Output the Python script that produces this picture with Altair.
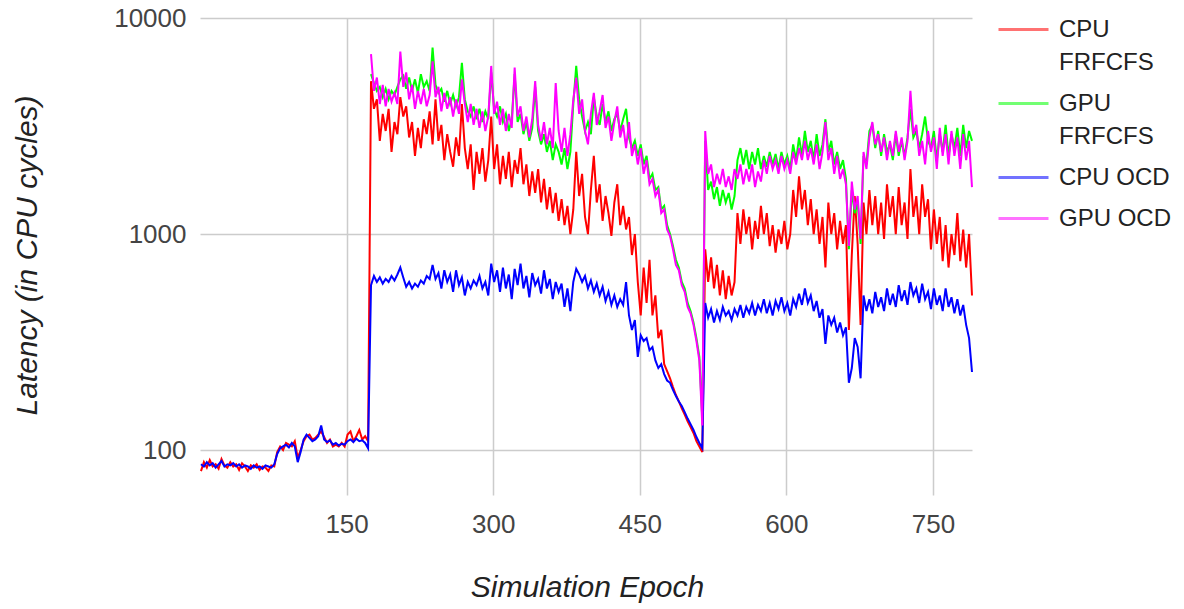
import altair as alt
import pandas as pd

EPOCHS = list(range(1, 791, 3))
GPU_EPOCHS = EPOCHS[58:]

SERIES = ["CPU FRFCFS", "GPU FRFCFS", "CPU OCD", "GPU OCD"]
COLORS = ["#ff0000", "#00ff00", "#0000ff", "#ff00ff"]
Y_TICKS = [100, 1000, 10000]
X_TICKS = [150, 300, 450, 600, 750]

CPU_FRFCFS = [
    80, 88, 83, 90, 84, 86, 82, 91, 85, 83, 88, 84, 86, 81, 87, 84, 80, 85, 83, 86, 81, 84, 83, 80, 85, 84,
    98, 104, 100, 108, 106, 104, 110, 92,
    100, 110, 116, 118, 112, 114, 118, 122, 115, 108, 112, 104, 106, 104, 108, 104, 118, 122, 110, 116, 124, 112, 116, 110,
    5100, 3800, 4200, 2700, 3600, 3000, 3800, 2400, 3300, 2900,
    4300, 3500, 3900, 2800, 3300, 2300, 3100, 2500, 3400, 2900,
    3700, 2600, 4200, 2700, 3200, 2200, 2900, 2400, 2050, 2800,
    2300, 4000, 2500, 2000, 2600, 1600, 2400, 1900, 2500, 1750,
    2200, 3500, 2000, 2600, 1700, 2300, 1800, 2400, 1650, 2200,
    1900, 2500, 1700, 2100, 1500, 1950, 1550, 2000, 1400, 1800,
    1300, 1650, 1250, 1550, 1150, 1450, 1100, 1350, 1000, 1300,
    2400, 1500, 1900, 1200, 1000, 1600, 2300, 1400, 1700, 1150,
    1500, 1250, 980, 1400, 1700, 1100, 1350, 1050, 1200, 800,
    1000, 600, 420, 700, 480, 760, 420, 520, 330, 360,
    250, 232, 215, 196, 180, 168, 156, 146, 136, 128,
    120, 110, 104, 98,
    850, 600, 780, 560, 720, 520, 680, 500, 640, 520,
    600, 1250, 900, 1300, 1000, 1200, 850, 1150, 950, 1350,
    1000, 1250, 880, 1100, 820, 1050, 900, 1150, 850, 1000,
    1600, 1200, 1850, 1300, 1600, 1100, 1450, 1000, 1300, 900,
    1200, 700, 1400, 1000, 1250, 850, 1150, 900, 1100, 360,
    800, 1500, 900, 380, 1400, 1000, 1600, 1100, 1500, 1000,
    1400, 950, 1700, 1200, 1500, 1000, 1650, 1100, 1400, 950,
    2000, 1200, 1500, 1000, 1700, 1200, 1450, 850, 1300, 900,
    1200, 750, 1100, 700, 1000, 800, 1250, 750, 1050, 700,
    1000, 520,
]

CPU_OCD = [
    86, 84, 88, 85, 87, 83, 86, 89, 84, 86, 85, 87, 84, 86, 83, 85, 84, 82, 85, 83, 84, 82, 85, 84, 83, 86,
    96, 102, 104, 106, 103, 108, 104, 88,
    98, 112, 118, 114, 110, 112, 116, 130, 112, 109, 111, 106, 108, 105, 107, 106, 110, 112, 109, 113, 110, 111, 108, 102,
    580, 640, 600, 630, 590, 620, 600, 640, 610, 650,
    700, 630, 570, 600, 560, 590, 570, 610, 590, 640,
    620, 720, 620, 660, 560, 680, 600, 650, 540, 680,
    580, 630, 520, 600, 560, 610, 580, 640, 560, 600,
    520, 730, 600, 680, 540, 700, 560, 650, 500, 690,
    580, 730, 560, 640, 510, 660, 580, 620, 530, 680,
    560, 620, 500, 600, 540, 590, 460, 560, 440, 600,
    690, 650, 600, 640, 560, 610, 540, 590, 520, 570,
    490, 540, 470, 520, 460,
    500, 470, 600, 420, 360, 400, 270, 340, 320, 330,
    290, 300, 260, 240, 250, 225, 210, 205, 190, 178,
    168, 160, 150, 140, 132, 124, 115, 108, 102,
    480, 410, 450, 390, 440, 400, 460, 420, 440, 400,
    450, 420, 470, 410, 460, 430, 480, 420, 470, 440,
    500, 430, 480, 420, 490, 450, 510, 440, 480, 420,
    500, 460, 530, 470, 560, 480, 520, 440, 490, 410,
    450, 310, 420, 380, 410, 350, 390, 340, 370, 205,
    240, 330, 300, 215, 520, 440, 500, 430, 540, 460,
    510, 440, 560, 470, 530, 460, 580, 490, 550, 470,
    600, 520, 560, 480, 590, 500, 540, 450, 560, 470,
    520, 440, 560, 460, 510, 430, 500, 420, 470, 380,
    330, 230,
]

GPU_FRFCFS = [
    5500, 5000, 4600, 4800, 4300, 4700, 4200, 4600, 4400, 4800,
    5200, 5400, 4700, 5300, 4600, 5200, 4500, 5500, 4800, 5100,
    4600, 7300, 4900, 4500, 4700, 4100, 4600, 4000, 4400, 3900,
    4300, 6200, 4200, 3700, 3500, 3900, 3400, 3800, 3300, 3700,
    3400, 5600, 3800, 3500, 3900, 3300, 3600, 3000, 3400, 5500,
    3300, 3600, 2900, 3300, 2700, 3100, 4800, 3000, 2600, 2900,
    2400, 2700, 2200, 2600, 2400, 2100, 2500, 2000, 2400, 4000,
    6000, 4200, 3500, 3000, 3300, 2900, 4300, 3500, 3200, 4000,
    3300, 3700, 3000, 3400, 3600, 3000, 3400, 3800, 2800, 2500,
    2700, 2300, 2600, 2100, 2300, 1800, 1900, 1600, 1650, 1300,
    1350, 1100, 1000, 880, 760, 700, 600, 560, 480, 440,
    390, 330, 270, 140,
    2700, 1600, 1750, 1450, 1650, 1350, 1600, 1400, 1550, 1300,
    1500, 2200, 2500, 2100, 2450, 2000, 2400, 2100, 2500, 2000,
    2300, 2050, 2400, 2100, 2350, 2000, 2400, 2100, 2300, 2000,
    2600, 2200, 2800, 2300, 3000, 2400, 2700, 2200, 2900, 2300,
    2600, 3400, 2400, 2700, 2100, 2400, 2000, 2200, 1800, 850,
    1600, 1250, 1400, 900, 2300, 2100, 3000, 3200, 2500, 3000,
    2300, 2900, 2400, 2600, 2200, 2900, 2300, 2700, 2300, 2800,
    3800, 2800, 3000, 2500, 2900, 3500, 2700, 2500, 3000, 2200,
    2900, 2400, 3200, 2300, 2900, 2500, 3100, 2300, 3200, 2500,
    3000, 2700,
]

GPU_OCD = [
    6800, 4600, 5300, 4000, 4900, 3900, 4700, 4100, 4500, 4000,
    7000, 4800, 5600, 4200, 4900, 3800, 4600, 4000, 4700, 3900,
    4400, 6300, 4300, 4800, 3700, 4500, 3800, 4300, 3500, 4200,
    3600, 5200, 4000, 3300, 4000, 3200, 3800, 3100, 3700, 3000,
    3500, 6000, 3600, 4100, 3200, 3800, 3000, 3600, 3100, 5900,
    3500, 3900, 3000, 3500, 2800, 3400, 5100, 3200, 2700, 3300,
    2600, 3100, 2500, 5000, 3000, 2400, 3100, 2300, 2900, 4200,
    5300, 3600, 4200, 3000, 2600, 3600, 4500, 3200, 3700, 4400,
    3100, 3500, 2700, 3300, 3900, 2800, 3200, 2500, 3300, 2300,
    2600, 2100, 2500, 1900, 2200, 1700, 1800, 1500, 1600, 1250,
    1300, 1050, 980, 850, 720, 680, 580, 540, 460, 430,
    380, 320, 260, 130,
    3000, 1900, 2100, 1650, 1900, 1700, 2000, 1650, 1850, 1600,
    2000, 1800, 2100, 1700, 2000, 1750, 2100, 1650, 1950, 1750,
    2200, 1900, 2300, 2000, 2200, 1900, 2300, 2000, 2200, 1900,
    2400, 2100, 2500, 2200, 2700, 2200, 2500, 2100, 2600, 2000,
    2400, 3300, 2200, 2500, 1900, 2300, 1800, 2000, 1700, 880,
    1750, 1300, 1500, 950, 2400, 2000, 2800, 3300, 2600, 2900,
    2400, 2800, 2200, 2700, 2300, 3000, 2400, 2800, 2200, 2700,
    4600, 2900, 3200, 2300, 2700, 2100, 3000, 2400, 2800, 2000,
    3100, 2300, 2900, 2100, 3000, 2300, 2800, 2000, 2900, 2200,
    2700, 1650,
]

rows = []
for name, xs, vals in [
    ("CPU FRFCFS", EPOCHS, CPU_FRFCFS),
    ("GPU FRFCFS", GPU_EPOCHS, GPU_FRFCFS),
    ("CPU OCD", EPOCHS, CPU_OCD),
    ("GPU OCD", GPU_EPOCHS, GPU_OCD),
]:
    for e, v in zip(xs, vals):
        rows.append({"epoch": e, "series": name, "latency": v})
df = pd.DataFrame(rows)

FONT = "Liberation Sans"

color = alt.Color(
    "series:N",
    scale=alt.Scale(domain=SERIES, range=COLORS),
    legend=alt.Legend(
        title=None,
        orient="none",
        legendX=797,
        legendY=-15,
        symbolType="stroke",
        symbolSize=2500,
        symbolStrokeWidth=3,
        symbolOpacity=0.55,
        labelFont=FONT,
        labelFontSize=24,
        labelColor="#222222",
        labelOffset=9,
        labelLimit=400,
        rowPadding=2,
        labelExpr="indexof(datum.label, 'FRFCFS') >= 0 ? split(datum.label, ' ') : datum.label",
    ),
)

x = alt.X(
    "epoch:Q",
    scale=alt.Scale(domain=[0, 790], nice=False, zero=False),
    axis=alt.Axis(
        values=X_TICKS,
        title="Simulation Epoch",
        grid=True,
        ticks=False,
        domain=False,
        labelPadding=16,
        titleX=387,
        titleY=92,
        titleBaseline="middle",
        titleAlign="center",
    ),
)
y = alt.Y(
    "latency:Q",
    scale=alt.Scale(type="log", domain=[62, 10000], nice=False),
    axis=alt.Axis(
        values=Y_TICKS,
        format="d",
        title="Latency (in CPU cycles)",
        grid=True,
        ticks=False,
        domain=False,
        labelPadding=14,
        titleX=-173,
        titleY=237,
        titleAngle=-90,
        titleBaseline="middle",
        titleAlign="center",
    ),
)

base = alt.Chart(df).mark_line(strokeWidth=2).encode(x=x, y=y, color=color)
layers = [base.transform_filter(alt.datum.series == s) for s in SERIES]

chart = (
    alt.layer(*layers)
    .properties(
        width=772,
        height=477,
        autosize=alt.AutoSizeParams(type="none"),
        padding={"left": 200, "top": 18, "right": 212, "bottom": 114},
        background="white",
    )
    .configure(style={"guide-label": {"lineHeight": 33}})
    .configure_view(strokeWidth=0)
    .configure_axis(
        labelFont=FONT,
        labelFontSize=26,
        labelColor="#444444",
        gridColor="#cccccc",
        gridWidth=1.5,
        titleFont=FONT,
        titleFontSize=30,
        titleFontStyle="italic",
        titleFontWeight="normal",
        titleColor="#222222",
    )
)

chart.save("out.html", embed_options={"renderer": "svg", "actions": False})
